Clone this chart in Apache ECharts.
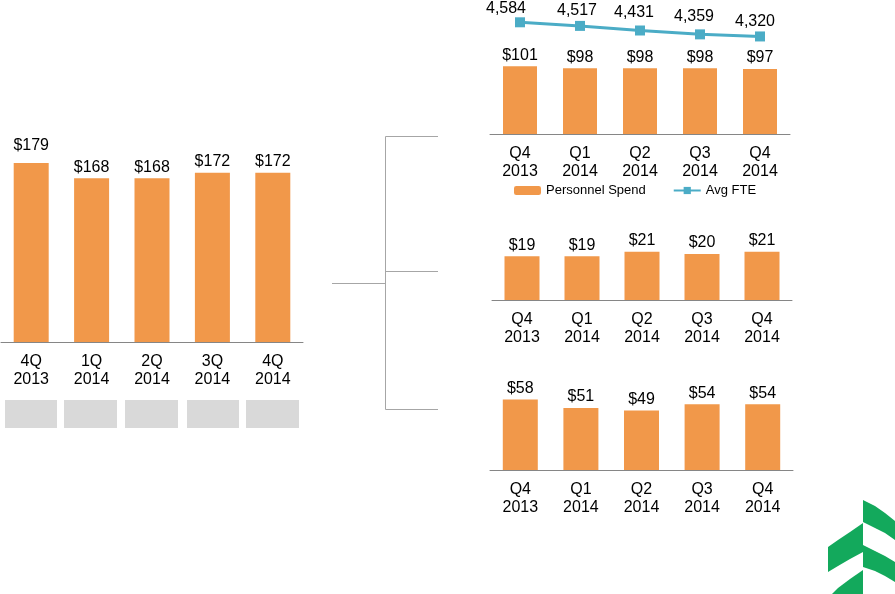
<!DOCTYPE html>
<html>
<head>
<meta charset="utf-8">
<title>Expense chart</title>
<script src="https://cdn.jsdelivr.net/npm/echarts@6/dist/echarts.min.js"></script>
<style>
    html, body { margin: 0; padding: 0; background: #fff; }
    #main { width: 895px; height: 594px; }
</style>
</head>
<body>
<div id="main"></div>
<script>
// 数据
var leftCategories = ['4Q\n2013', '1Q\n2014', '2Q\n2014', '3Q\n2014', '4Q\n2014'];
var leftValues = [179, 168, 168, 172, 172];

var rightCategories = ['Q4\n2013', 'Q1\n2014', 'Q2\n2014', 'Q3\n2014', 'Q4\n2014'];
var personnelSpend = [101, 98, 98, 98, 97];
var avgFte = [4584, 4517, 4431, 4359, 4320];
var middleValues = [19, 19, 21, 20, 21];
var bottomValues = [58, 51, 49, 54, 54];

// label nudges (style only)
var fteLabelShift = [[-14, 1], [-3, 0], [-6, -3], [-6, -3], [-5, 0]];
var leftLabelShift = [[0, -7], [0, 0], [0, 0], [0, 0], [0, 0]];

var ORANGE = '#f1984a';
var TEAL = '#4bacc6';
var FONT = 'Liberation Sans, Arial, sans-serif';

function withShift(values, shifts) {
    return values.map(function (v, i) {
        return { value: v, label: { offset: shifts[i] } };
    });
}

function catAxis(gridIndex, cats) {
    return {
        type: 'category',
        gridIndex: gridIndex,
        data: cats,
        axisTick: { show: false },
        axisLine: { lineStyle: { color: '#868686', width: 1 } },
        axisLabel: {
            color: '#000',
            fontFamily: FONT,
            fontSize: 16,
            lineHeight: 18,
            margin: 11,
            interval: 0
        }
    };
}

function valAxis(gridIndex, min, max) {
    return {
        type: 'value',
        gridIndex: gridIndex,
        min: min,
        max: max,
        show: false,
        splitLine: { show: false }
    };
}

function barSeries(name, xi, yi, data, width) {
    return {
        name: name,
        type: 'bar',
        xAxisIndex: xi,
        yAxisIndex: yi,
        data: data,
        barWidth: width,
        itemStyle: { color: ORANGE },
        label: {
            show: true,
            position: 'top',
            distance: 3,
            color: '#000',
            fontFamily: FONT,
            fontSize: 16,
            formatter: function (p) { return '$' + p.value; }
        },
        silent: true,
        animation: false
    };
}

function bracket() {
    var lineStyle = { stroke: '#a6a6a6', lineWidth: 1 };
    return [
        { type: 'polyline', shape: { points: [[332, 283.5], [385.5, 283.5]] }, style: lineStyle },
        { type: 'polyline', shape: { points: [[438, 136.5], [385.5, 136.5], [385.5, 409.5], [438, 409.5]] }, style: lineStyle },
        { type: 'polyline', shape: { points: [[385.5, 271.5], [438, 271.5]] }, style: lineStyle }
    ];
}

function grayBoxes() {
    var boxes = [[5, 52], [64, 53], [125, 53], [187, 52], [246, 53]];
    return boxes.map(function (b) {
        return { type: 'rect', shape: { x: b[0], y: 400, width: b[1], height: 28 }, style: { fill: '#d9d9d9' } };
    });
}

function logo() {
    var green = '#13a95c';
    var shapes = [
        [[863, 500], [875, 506], [885, 513], [895, 521], [895, 540], [885, 533], [875, 528], [863, 522]],
        [[863, 545], [875, 551], [885, 556], [895, 562], [895, 582], [885, 576], [875, 571], [863, 567]],
        [[863, 523], [850, 532], [838, 540], [828, 547], [828, 572], [838, 566], [850, 559], [863, 552]],
        [[863, 570], [850, 579], [838, 588], [832, 594], [863, 594]]
    ];
    return shapes.map(function (pts) {
        return { type: 'polygon', shape: { points: pts }, style: { fill: green } };
    });
}

function build() {
    var myChart = echarts.init(document.getElementById('main'), null, { renderer: 'canvas' });

    var option = {
        backgroundColor: '#fff',
        animation: false,
        textStyle: { fontFamily: FONT },
        legend: {
            left: 514,
            top: 184,
            padding: 0,
            itemWidth: 27,
            itemHeight: 9,
            itemGap: 27,
            textStyle: { color: '#000', fontSize: 13, fontFamily: FONT },
            data: ['Personnel Spend', 'Avg FTE']
        },
        grid: [
            { left: 1, top: 134, width: 302, height: 208 },
            { left: 490, top: 0, width: 300, height: 134 },
            { left: 492, top: 231, width: 300, height: 69 },
            { left: 490, top: 397, width: 303, height: 73 }
        ],
        xAxis: [
            catAxis(0, leftCategories),
            catAxis(1, rightCategories),
            catAxis(2, rightCategories),
            catAxis(3, rightCategories)
        ],
        yAxis: [
            valAxis(0, 50, 200),
            valAxis(1, 0, 200),
            valAxis(1, 2500, 5000),
            valAxis(2, 0, 30),
            valAxis(3, 0, 60)
        ],
        series: [
            barSeries('Total', 0, 0, withShift(leftValues, leftLabelShift), 35),
            barSeries('Personnel Spend', 1, 1, personnelSpend, 34),
            {
                name: 'Avg FTE',
                type: 'line',
                xAxisIndex: 1,
                yAxisIndex: 2,
                data: withShift(avgFte, fteLabelShift),
                symbol: 'rect',
                symbolSize: 10,
                lineStyle: { color: TEAL, width: 3 },
                itemStyle: { color: TEAL },
                label: {
                    show: true,
                    position: 'top',
                    distance: 2,
                    color: '#000',
                    fontFamily: FONT,
                    fontSize: 16,
                    formatter: function (p) {
                        return String(p.value).replace(/\B(?=(\d{3})+(?!\d))/g, ',');
                    }
                },
                silent: true,
                animation: false
            },
            barSeries('Other A', 2, 3, middleValues, 35),
            barSeries('Other B', 3, 4, bottomValues, 35)
        ],
        graphic: bracket().concat(grayBoxes()).concat(logo())
    };

    myChart.setOption(option);
}

build();
</script>
</body>
</html>
